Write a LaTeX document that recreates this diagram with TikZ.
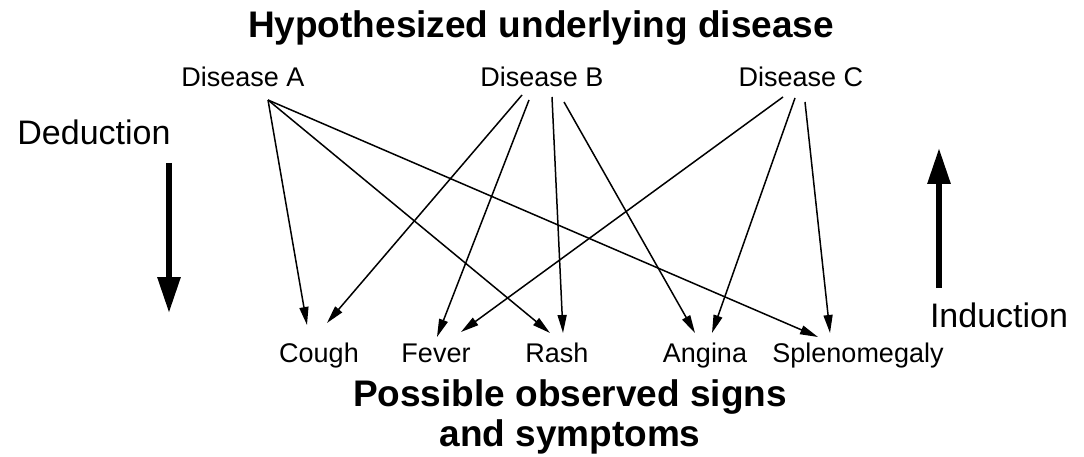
\documentclass[tikz,border=0pt]{standalone}
\usepackage{fontspec}
\setmainfont{Liberation Sans}
\usetikzlibrary{arrows.meta}
\begin{document}
\begin{tikzpicture}[x=1pt,y=-1pt,
  lbl/.style={anchor=base,inner sep=0pt,font=\fontsize{27}{32}\selectfont},
  ttl/.style={anchor=base,inner sep=0pt,font=\fontsize{37}{40}\selectfont\bfseries,align=center},
  side/.style={anchor=base,inner sep=0pt,font=\fontsize{34}{40}\selectfont},
  conn/.style={line width=1.5pt,-{Triangle[length=18pt,width=9pt]}},
  bigarrow/.style={line width=6pt,-{Triangle[length=36pt,width=22pt]}}]
\path[fill=white] (0,0) rectangle (1084,457);
\node[ttl] (top) at (541,38) {Hypothesized underlying disease};
\node[lbl] (A) at (243,87) {Disease A};
\node[lbl] (B) at (542,87) {Disease B};
\node[lbl] (C) at (801,87) {Disease C};
\node[side] (ded) at (94,145) {Deduction};
\node[side] (ind) at (999,327) {Induction};
\node[lbl] (cough) at (319,362) {Cough};
\node[lbl] (fever) at (436,362) {Fever};
\node[lbl] (rash) at (557,362) {Rash};
\node[lbl] (angina) at (705,362) {Angina};
\node[lbl] (splen) at (858,362) {Splenomegaly};
\node[ttl] (bot1) at (570,406) {Possible observed signs};
\node[ttl] (bot2) at (570,446) {and symptoms};
% big arrows
\coordinate (dtop) at (169,163);
\coordinate (dbot) at (169,313);
\coordinate (ibot) at (939,288);
\coordinate (itop) at (939,148);
\draw[bigarrow] (dtop) -- (dbot);
\draw[bigarrow] (ibot) -- (itop);
% Disease A
\draw[conn] ([shift={(25,13)}]A.base) -- ([shift={(-12,-37)}]cough.base);
\draw[conn] ([shift={(25,13)}]A.base) -- ([shift={(-7,-29)}]rash.base);
\draw[conn] ([shift={(25,13)}]A.base) -- ([shift={(-40,-25)}]splen.base);
% Disease B
\draw[conn] ([shift={(-20,8)}]B.base) -- ([shift={(8,-39)}]cough.base);
\draw[conn] ([shift={(-13,13)}]B.base) -- ([shift={(1,-25)}]fever.base);
\draw[conn] ([shift={(10,10)}]B.base) -- ([shift={(6,-29)}]rash.base);
\draw[conn] ([shift={(22,15)}]B.base) -- ([shift={(-10,-29)}]angina.base);
% Disease C
\draw[conn] ([shift={(-18,10)}]C.base) -- ([shift={(25,-30)}]fever.base);
\draw[conn] ([shift={(-6,11)}]C.base) -- ([shift={(7,-29)}]angina.base);
\draw[conn] ([shift={(4,15)}]C.base) -- ([shift={(-28,-29)}]splen.base);
\end{tikzpicture}
\end{document}
